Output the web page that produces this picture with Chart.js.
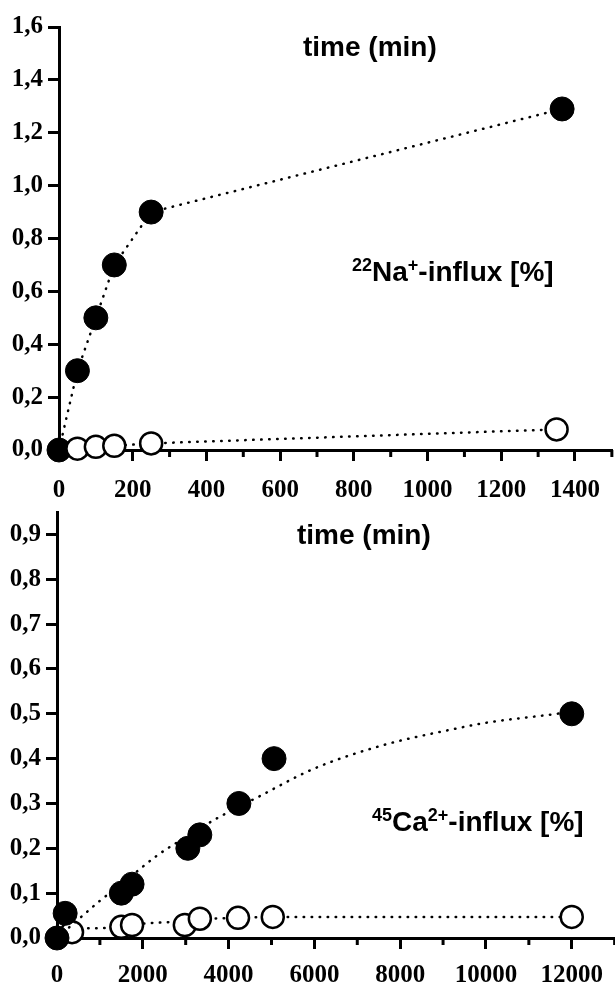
<!DOCTYPE html>
<html>
<head>
<meta charset="utf-8">
<script src="https://cdn.jsdelivr.net/npm/chart.js@4/dist/chart.umd.min.js"></script>
<style>
  body { margin: 0; background: #fff; }
  .box { position: relative; width: 615px; }
  canvas { display: block; }
</style>
</head>
<body>
<div class="box"><canvas id="naChart" width="615" height="505"></canvas></div>
<div class="box"><canvas id="caChart" width="615" height="481"></canvas></div>
<script>
// --- 22Na+ influx (top panel) ---
const naTime = [0, 50, 100, 150, 250, 1365];
const naFilled = [0, 0.30, 0.50, 0.70, 0.90, 1.29];
const naOpenTime = [50, 100, 150, 250, 1350];
const naOpen = [0.005, 0.012, 0.016, 0.025, 0.078];
const naXTicks = [0, 200, 400, 600, 800, 1000, 1200, 1400];
const naXMinor = [300, 500, 700, 900, 1100, 1300, 1500];
const naYTicks = [0, 0.2, 0.4, 0.6, 0.8, 1.0, 1.2, 1.4, 1.6];

// --- 45Ca2+ influx (bottom panel) ---
const caTime = [0, 190, 1500, 1750, 3050, 3330, 4240, 5060, 12000];
const caFilled = [0, 0.055, 0.10, 0.12, 0.20, 0.23, 0.30, 0.40, 0.50];
const caOpenTime = [350, 1500, 1750, 2980, 3330, 4220, 5030, 12000];
const caOpen = [0.013, 0.025, 0.029, 0.029, 0.043, 0.045, 0.047, 0.047];
// dotted fit curves
const caFitTime = [0, 600, 1000, 1500, 2350, 3000, 3750, 4700, 6000, 7600, 9200, 10000, 11650, 12000];
const caFit = [0, 0.05, 0.083, 0.12, 0.185, 0.225, 0.268, 0.315, 0.378, 0.43, 0.465, 0.48, 0.50, 0.505];
const caOpenFitTime = [0, 400, 1000, 1500, 2000, 2700, 3330, 4200, 5000, 12000];
const caOpenFit = [0.008, 0.02, 0.022, 0.025, 0.032, 0.036, 0.042, 0.045, 0.047, 0.047];
const caXTicks = [0, 2000, 4000, 6000, 8000, 10000, 12000];
const caXMinor = [1000, 3000, 5000, 7000, 9000, 11000, 13000];
const caYTicks = [0, 0.1, 0.2, 0.3, 0.4, 0.5, 0.6, 0.7, 0.8, 0.9];

const tickFont = { family: 'Liberation Serif', weight: 'bold', size: 25 };
const labelFamily = 'Liberation Sans';

function pts(xs, ys) {
  return xs.map((x, i) => ({ x: x, y: ys[i] }));
}

function comma(v) {
  return v.toFixed(1).replace('.', ',');
}

function dotted(extra) {
  return Object.assign({
    showLine: true,
    borderColor: '#000',
    borderWidth: 2.5,
    borderDash: [0.5, 7.5],
    borderCapStyle: 'round',
    clip: false
  }, extra);
}

function filledPts(data, line) {
  return dotted({
    data: data,
    showLine: line,
    pointRadius: 12,
    pointBackgroundColor: '#000',
    pointBorderColor: '#000',
    pointBorderWidth: 1
  });
}

function openPts(data, line) {
  return dotted({
    data: data,
    showLine: line,
    pointRadius: 11,
    pointBackgroundColor: '#fff',
    pointBorderColor: '#000',
    pointBorderWidth: 2.5
  });
}

// short ticks between the labelled ones on the x axis
const minorTicks = {
  id: 'minorTicks',
  afterDraw(chart, args, opts) {
    const ctx = chart.ctx;
    const xs = chart.scales.x;
    const bottom = chart.chartArea.bottom;
    ctx.save();
    ctx.strokeStyle = '#000';
    ctx.lineWidth = 3;
    opts.values.forEach(v => {
      const px = xs.getPixelForValue(v);
      if (px > chart.width) return;
      ctx.beginPath();
      ctx.moveTo(px, bottom);
      ctx.lineTo(px, bottom + 7);
      ctx.stroke();
    });
    ctx.restore();
  }
};

// text labels with superscripts
const notes = {
  id: 'notes',
  afterDraw(chart, args, opts) {
    const ctx = chart.ctx;
    ctx.save();
    ctx.fillStyle = '#000';
    ctx.textBaseline = 'alphabetic';
    opts.items.forEach(item => {
      let x = item.x;
      item.parts.forEach(p => {
        const size = p.sup ? 18 : 28;
        ctx.font = 'bold ' + size + 'px "' + labelFamily + '"';
        ctx.fillText(p.t, x, item.y - (p.sup ? 10 : 0));
        x += ctx.measureText(p.t).width;
      });
    });
    ctx.restore();
  }
};

function axes(xMax, xTicks, yMax, yTicks, yWidth, xHeight, xPad) {
  return {
    x: {
      type: 'linear',
      min: 0,
      max: xMax,
      afterBuildTicks: s => { s.ticks = xTicks.map(v => ({ value: v })); },
      afterFit: s => { s.height = xHeight; },
      border: { display: true, color: '#000', width: 3 },
      grid: { drawOnChartArea: false, drawTicks: true, tickLength: 11, color: '#000', lineWidth: 3 },
      ticks: { color: '#000', font: tickFont, padding: xPad, maxRotation: 0, autoSkip: false, callback: v => String(v) }
    },
    y: {
      type: 'linear',
      min: 0,
      max: yMax,
      afterBuildTicks: s => { s.ticks = yTicks.map(v => ({ value: v })); },
      afterFit: s => { s.width = yWidth; s.paddingTop = 0; s.paddingBottom = 0; },
      border: { display: true, color: '#000', width: 3 },
      grid: { drawOnChartArea: false, drawTicks: true, tickLength: 11, color: '#000', lineWidth: 3 },
      ticks: { color: '#000', font: tickFont, padding: 5, autoSkip: false, callback: v => comma(v) }
    }
  };
}

new Chart(document.getElementById('naChart'), {
  type: 'scatter',
  data: {
    datasets: [
      openPts(pts(naOpenTime, naOpen), true),
      filledPts(pts(naTime, naFilled), true)
    ]
  },
  options: {
    responsive: false,
    animation: false,
    layout: { autoPadding: false, padding: { top: 27, left: 0, right: 0, bottom: 0 } },
    scales: axes(1500, naXTicks, 1.6, naYTicks, 59, 55, 15),
    plugins: {
      legend: { display: false },
      tooltip: { enabled: false },
      minorTicks: { values: naXMinor },
      notes: {
        items: [
          { x: 303, y: 56, parts: [{ t: 'time (min)' }] },
          { x: 352, y: 281, parts: [{ t: '22', sup: true }, { t: 'Na' }, { t: '+', sup: true }, { t: '-influx [%]' }] }
        ]
      }
    }
  },
  plugins: [minorTicks, notes]
});

new Chart(document.getElementById('caChart'), {
  type: 'scatter',
  data: {
    datasets: [
      filledPts(pts(caTime, caFilled), false),
      dotted({ data: pts(caFitTime, caFit), pointRadius: 0, tension: 0.3, cubicInterpolationMode: 'monotone' }),
      openPts(pts(caOpenTime, caOpen), false),
      dotted({ data: pts(caOpenFitTime, caOpenFit), pointRadius: 0, tension: 0.3, cubicInterpolationMode: 'monotone' })
    ]
  },
  options: {
    responsive: false,
    animation: false,
    layout: { autoPadding: false, padding: { top: 7, left: 0, right: 0, bottom: 0 } },
    scales: axes(13000, caXTicks, 0.95, caYTicks, 57, 48, 12),
    plugins: {
      legend: { display: false },
      tooltip: { enabled: false },
      minorTicks: { values: caXMinor },
      notes: {
        items: [
          { x: 297, y: 39, parts: [{ t: 'time (min)' }] },
          { x: 372, y: 326, parts: [{ t: '45', sup: true }, { t: 'Ca' }, { t: '2+', sup: true }, { t: '-influx [%]' }] }
        ]
      }
    }
  },
  plugins: [minorTicks, notes]
});
</script>
</body>
</html>
